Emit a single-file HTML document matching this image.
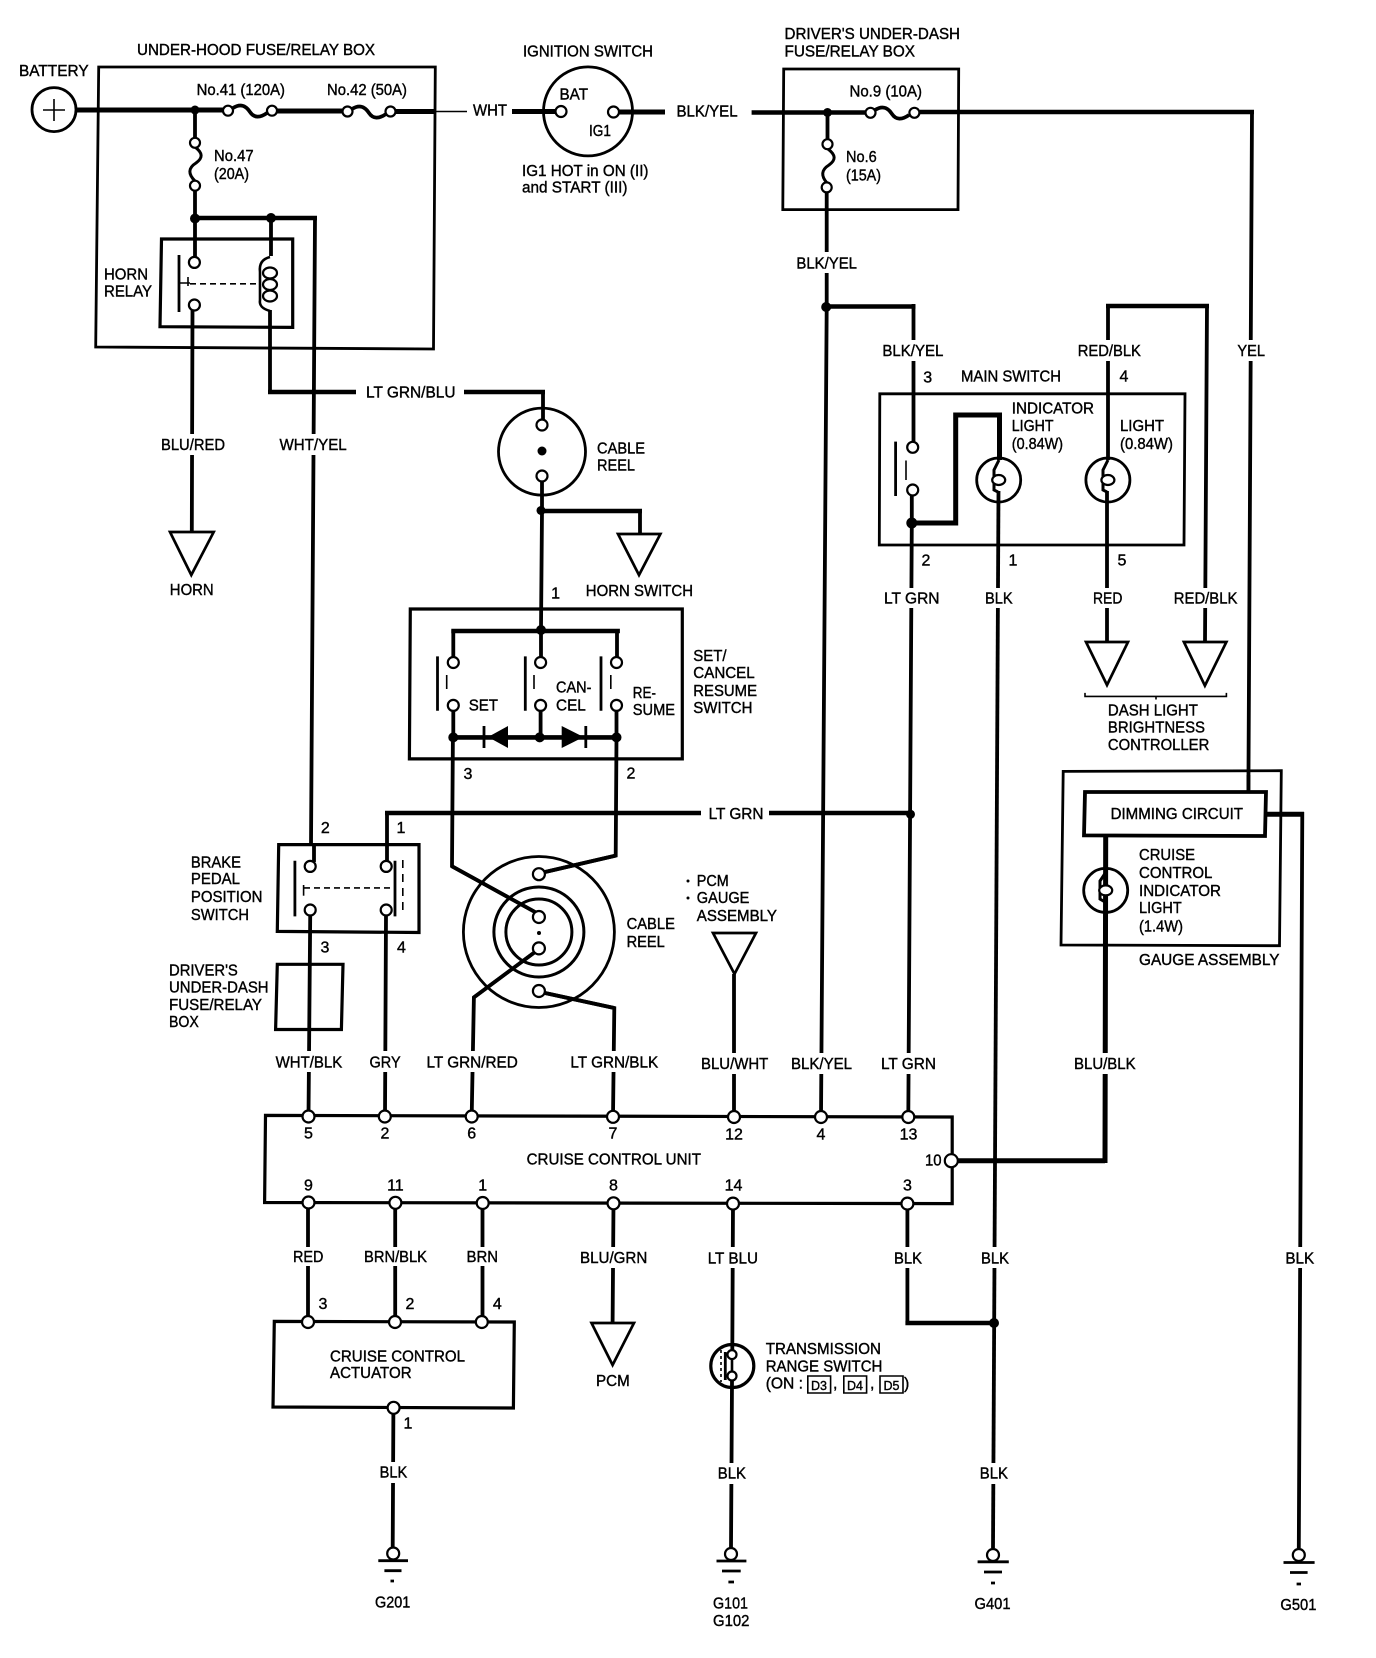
<!DOCTYPE html>
<html><head><meta charset="utf-8"><title>Cruise control wiring diagram</title>
<style>
html,body{margin:0;padding:0;background:#fff}
svg{display:block}
text{font-family:"Liberation Sans",sans-serif;font-size:16px;fill:#000;stroke:#000;stroke-width:.4}
.n{text-anchor:middle}
.w{fill:none;stroke:#000;stroke-width:3.8;stroke-linejoin:miter}
.h{fill:none;stroke:#000;stroke-width:4.6}
.k{fill:none;stroke:#000;stroke-width:5}
.b{fill:none;stroke:#000;stroke-width:2.8}
.bb{fill:none;stroke:#000;stroke-width:3.2}
.t{fill:none;stroke:#000;stroke-width:1.6}
.g{fill:none;stroke:#fff;stroke-width:10}
.c{fill:#fff;stroke:#000;stroke-width:2.2}
.tri{fill:#fff;stroke:#000;stroke-width:2.7}
</style></head><body>
<svg width="1376" height="1658" viewBox="0 0 1376 1658" xmlns="http://www.w3.org/2000/svg">
<rect width="1376" height="1658" fill="#fff"/>

<!-- boxes -->
<g>
<path class="b" d="M98.7,67H435.3L433.5,349L95.7,347Z"/>
<path class="bb" d="M161.5,239H292.7V327.4L160,326.7Z"/>
<path class="b" d="M783.7,69H958.7L958,209.6H782.8Z"/>
<path class="b" d="M879.8,393.8H1185L1184,545H879.3Z"/>
<path class="bb" d="M410.3,609H682.3V758.9H409.4Z"/>
<path class="bb" d="M278.7,844.6H419V932.5L277.3,931.4Z"/>
<path class="bb" d="M277.3,964.3H343L341.4,1029.5H275.6Z"/>
<path class="bb" d="M265.5,1115.4L952.2,1117V1203.6L264.6,1202.5Z"/>
<path class="bb" d="M274.3,1321.4L514.3,1322L513.4,1408L273,1407Z"/>
<path class="b" d="M1063.2,771.4L1281.3,770.7L1279.5,945.7L1061,945Z"/>
<path class="w" d="M1085,792H1266L1265,836L1084,835.4Z"/>
</g>

<!-- wires -->
<path class="k" d="M76,110H228M277,111H342M395,111.5H436"/>
<path class="t" d="M436,111.5H467"/>
<path class="k" d="M512,111.5H559M618,112H665"/>
<path class="w" d="M195,110V138M195,190V218M315,218L311,846M195,218V258M192.5,310L191.8,533"/>
<path class="h" d="M193,218H317"/>
<path class="w" d="M271,218V256M270,310V394M543,390V420M542,480V511L541,628M640,509V533"/>
<path class="h" d="M268,392H356M464,392H545M539,511H642"/>
<path class="w" d="M826.7,192V307L821,1117M913.5,304V442M1252,110L1248.4,790M827.5,112.5V139"/>
<path class="h" d="M751.6,112.5H866M824,306.5H915.5M920,112H1254"/>
<path class="w" d="M911.8,495V523L908.3,1117"/>
<path class="k" d="M911.8,523H955.7V415H999.5V460"/>
<path class="w" d="M998.5,491L993,1548"/>
<path class="w" d="M1108,460V304M1207,304L1205,642M1107,491V642"/>
<path class="h" d="M1106,306H1209"/>
<path class="w" d="M453.3,630V658M541,630V658M617,630V658M453.3,710V737.4M540.6,710V737.4M616.5,710V737.4"/>
<path class="h" d="M451.3,631H619.9M453,737.4H617"/>
<path class="w" d="M452.9,737.4L452,866.3L535,912M616.5,737.4L615.7,855.6L545,872"/>
<path class="w" d="M535,952L473.9,997.4L471.7,1116M545,993L614.3,1008L613,1116"/>
<path class="w" d="M387,866V811M310.2,905V917L308.5,1116M386,915L385,1116M314,846V862"/>
<path class="h" d="M385,813H701M769,813H910"/>
<path class="w" d="M308,1203V1322M395.2,1203V1322M482.5,1203V1322M613.5,1203L612.6,1323M733,1203L732.3,1350M732,1381L731,1548M393.4,1408L392.7,1548M907.4,1203V1325"/>
<path class="h" d="M905.4,1323H994"/>
<path class="k" d="M957,1160.7H1105M1105,1163L1105.7,837"/>
<path class="w" d="M734,974V1116"/>
<path class="k" d="M1266,814.3H1304"/>
<path class="w" d="M1302.3,812L1298.8,1548M1248.4,775V792"/>

<!-- label gaps on wires -->
<path class="g" d="M192.5,434V455M313.5,434V455M826,252V273M914,340V361M1108,340V361M1250,340V361M910,588V608M998,588V608M1107,588V608M1205.5,588V608M309,1051V1072M385,1051V1072M473,1051V1072M613.5,1051V1072M734,1053V1074M821,1053V1074M908.5,1053V1074M1104.5,1053V1074M308,1247V1266M395,1247V1266M482,1247V1266M613,1247V1268M733,1247V1268M907.4,1247V1268M994.5,1247V1268M1299.5,1247V1268M392.7,1462V1483M731.5,1463V1484M993.5,1463V1484"/>

<!-- fuses -->
<path class="w" d="M233,108C241,103 246,106 250,112S260,118 267,113"/>
<path class="w" d="M352,109C360,104 365,107 369,113S379,119 386,114"/>
<path class="w" d="M875,110C883,105 888,108 892,114S902,120 909,115"/>
<path class="w" stroke-width="3" style="stroke-width:3" d="M195,147C203,153 203,158 196,163C188,168 188,174 195,181"/>
<path class="w" style="stroke-width:3" d="M828,149C836,155 836,160 829,165C821,170 821,176 827,183"/>

<!-- battery, ignition, reels -->
<circle class="b" cx="54" cy="109.6" r="22"/>
<path class="t" d="M43,110H65M54,99V121"/>
<circle class="b" cx="588" cy="111.4" r="44.5"/>
<circle class="b" cx="542" cy="451.6" r="43.5"/>
<circle cx="542" cy="451" r="4.5"/>
<circle class="b" cx="538.9" cy="932" r="75.5"/>
<circle class="b" style="stroke-width:3" cx="538.9" cy="932" r="45"/>
<circle class="b" style="stroke-width:3" cx="538.9" cy="932" r="33"/>
<circle cx="539" cy="933" r="2"/>
<path class="w" d="M452,866.3L535,912M545,872L615.7,855.6M473.9,997.4L535,952M545,993L614.3,1008"/>

<!-- relay internals -->
<path class="b" d="M179,255V312"/>
<path class="t" d="M188,277V286M179,283H190"/>
<path class="t" stroke-dasharray="6 4" d="M190,283.8H259"/>
<path class="w" style="stroke-width:2.6" d="M270,257C262,259 259,264 260,272V300C259,306 263,309 270,311"/>
<ellipse class="c" cx="270" cy="273" rx="7" ry="5.5"/>
<ellipse class="c" cx="270" cy="284.5" rx="7" ry="5.5"/>
<ellipse class="c" cx="270" cy="296" rx="7" ry="5.5"/>

<!-- main switch -->
<path class="b" d="M895.6,441.6V496"/>
<path class="t" d="M906,460.5V480"/>
<circle class="b" cx="998.7" cy="480" r="22"/>
<circle class="b" cx="1107.9" cy="480" r="22"/>
<path class="w" style="stroke-width:3" d="M999,460L994,470V490L998,492M1108,460L1103,470V490L1107,492"/>
<ellipse class="c" cx="998.7" cy="480" rx="6.5" ry="5"/>
<ellipse class="c" cx="1107.9" cy="480" rx="6.5" ry="5"/>

<!-- set/cancel switch -->
<path class="b" d="M437.5,656.4V710.7M525.3,656.4V710.7M601,656.4V710.7"/>
<path class="t" d="M446.7,675V689M534,675V689M610.8,675V689"/>
<path d="M488,737L508,726V748Z"/>
<path d="M583.6,737L561.7,726V748Z"/>
<path class="b" d="M484,726V748M585.8,726V748"/>

<!-- brake switch -->
<path class="b" d="M294.9,860.7V916.4M395,860.7V916.4"/>
<path class="t" d="M303.6,885V895.7"/>
<path class="t" stroke-dasharray="8 6" d="M402.8,860V915"/>
<path class="t" stroke-dasharray="6 4" d="M304,887.9H392.7"/>

<!-- gauge lamp -->
<circle class="b" cx="1105.7" cy="890.4" r="22"/>
<path class="w" style="stroke-width:3" d="M1106,872L1100,881V899L1105,902"/>
<ellipse class="c" cx="1105.7" cy="890.4" rx="6.5" ry="5"/>

<!-- transmission switch -->
<circle class="b" style="stroke-width:3.2" cx="732.3" cy="1366" r="21.5"/>
<path class="b" d="M725.3,1352V1380"/>
<path class="t" stroke-dasharray="3 3" d="M721,1350V1382"/>
<path class="w" style="stroke-width:2.6" d="M732,1350V1386"/>

<!-- triangles -->
<path class="tri" d="M170,532H213.7L191.3,575Z"/>
<path class="tri" d="M618,534H660.4L639,575Z"/>
<path class="tri" d="M1086,642H1128L1107,685Z"/>
<path class="tri" d="M1183.9,642H1226.4L1204.9,685.7Z"/>
<path class="tri" d="M713,933H756L734.5,974Z"/>
<path class="tri" d="M591.5,1323H634L612.6,1365Z"/>
<path class="t" d="M1085,692.9V696.4H1226.4V692.9M1156,696.4V699.5"/>

<!-- junction dots -->
<g>
<circle cx="195" cy="110" r="4.5"/><circle cx="195" cy="218.5" r="5"/><circle cx="271" cy="218" r="5"/>
<circle cx="827.5" cy="112.5" r="4.5"/><circle cx="826.2" cy="307" r="5"/><circle cx="911.8" cy="523" r="5.5"/>
<circle cx="541" cy="510.5" r="4.5"/><circle cx="541" cy="630" r="5"/><circle cx="453.3" cy="737.4" r="5"/>
<circle cx="539.7" cy="737.4" r="5"/><circle cx="616.5" cy="737.4" r="5"/><circle cx="910.5" cy="814.3" r="4.5"/>
<circle cx="994" cy="1323" r="5"/><circle cx="688" cy="881" r="1.5"/><circle cx="688" cy="898" r="1.5"/>
</g>

<!-- terminals -->
<g>
<circle class="c" cx="228" cy="110.7" r="5"/><circle class="c" cx="272" cy="110.7" r="5"/>
<circle class="c" cx="347.5" cy="111.5" r="5"/><circle class="c" cx="390.5" cy="111.5" r="5"/>
<circle class="c" cx="561" cy="111.5" r="5.5"/><circle class="c" cx="613.5" cy="112" r="5.5"/>
<circle class="c" cx="195" cy="142.8" r="5"/><circle class="c" cx="195" cy="185.7" r="5"/>
<circle class="c" cx="194.4" cy="262.4" r="5.5"/><circle class="c" cx="194.4" cy="305" r="5.5"/>
<circle class="c" cx="870.5" cy="112.8" r="5"/><circle class="c" cx="914.4" cy="112.8" r="5"/>
<circle class="c" cx="827.5" cy="144.2" r="5"/><circle class="c" cx="826.7" cy="187.4" r="5"/>
<circle class="c" cx="542" cy="425" r="5.5"/><circle class="c" cx="542" cy="476" r="5.5"/>
<circle class="c" cx="912.7" cy="447.3" r="5.5"/><circle class="c" cx="912.7" cy="490" r="5.5"/>
<circle class="c" cx="453.3" cy="662.5" r="5.5"/><circle class="c" cx="540.6" cy="662.5" r="5.5"/><circle class="c" cx="616.5" cy="662.5" r="5.5"/>
<circle class="c" cx="453.3" cy="705.4" r="5.5"/><circle class="c" cx="540.6" cy="705.4" r="5.5"/><circle class="c" cx="616.5" cy="705.4" r="5.5"/>
<circle class="c" cx="310.2" cy="866.4" r="5.5"/><circle class="c" cx="310.2" cy="910" r="5.5"/>
<circle class="c" cx="386.2" cy="866.4" r="5.5"/><circle class="c" cx="386.2" cy="910" r="5.5"/>
<circle class="c" cx="538.9" cy="874.2" r="6"/><circle class="c" cx="538.9" cy="917" r="6"/>
<circle class="c" cx="538.9" cy="948.4" r="6"/><circle class="c" cx="538.9" cy="991" r="6"/>
<circle class="c" cx="308.5" cy="1116.5" r="6"/><circle class="c" cx="384.8" cy="1116.5" r="6"/><circle class="c" cx="471.7" cy="1116.5" r="6"/>
<circle class="c" cx="613" cy="1116.8" r="6"/><circle class="c" cx="734" cy="1117" r="6"/><circle class="c" cx="821" cy="1117" r="6"/><circle class="c" cx="908.3" cy="1117" r="6"/>
<circle class="c" cx="951.3" cy="1160.7" r="6.5"/>
<circle class="c" cx="308.5" cy="1202.5" r="6"/><circle class="c" cx="395.4" cy="1202.8" r="6"/><circle class="c" cx="482.7" cy="1203" r="6"/>
<circle class="c" cx="613.5" cy="1203.3" r="6"/><circle class="c" cx="733" cy="1203.6" r="6"/><circle class="c" cx="907.4" cy="1203.6" r="6"/>
<circle class="c" cx="308" cy="1322" r="6"/><circle class="c" cx="395" cy="1322" r="6"/><circle class="c" cx="481.8" cy="1322" r="6"/>
<circle class="c" cx="393.6" cy="1407.8" r="6"/>
<circle class="c" cx="732" cy="1354.6" r="4.5"/><circle class="c" cx="732" cy="1376" r="4.5"/>
</g>

<!-- grounds -->
<circle class="c" cx="393.2" cy="1553.5" r="6"/>
<path class="b" d="M378.3,1560.7H408M384.4,1570.7H401.5M390.5,1581H394"/>
<circle class="c" cx="731" cy="1554" r="6"/>
<path class="b" d="M716.5,1561H746.4M722,1571H740.7M728.4,1582H734"/>
<circle class="c" cx="993" cy="1555" r="6"/>
<path class="b" d="M977.6,1561.8H1008.8M984,1572H1002M991,1583H995"/>
<circle class="c" cx="1298.8" cy="1555" r="6"/>
<path class="b" d="M1283.5,1562.5H1314.6M1290,1572.5H1307.6M1296.6,1584H1301"/>

<!-- D boxes -->
<path class="t" d="M807.8,1376H830.6V1393H807.8ZM843.8,1376H866.6V1393H843.8ZM880,1376H903V1393H880Z"/>

<!-- labels -->
<g transform="translate(0,-1.5)">
<text x="137" y="56.4" textLength="238" lengthAdjust="spacingAndGlyphs">UNDER-HOOD FUSE/RELAY BOX</text>
<text x="19" y="77.5" textLength="69.6" lengthAdjust="spacingAndGlyphs">BATTERY</text>
<text x="523" y="57.8" textLength="130" lengthAdjust="spacingAndGlyphs">IGNITION SWITCH</text>
<text x="196.6" y="96.4" textLength="88.4" lengthAdjust="spacingAndGlyphs">No.41 (120A)</text>
<text x="327" y="96.4" textLength="80" lengthAdjust="spacingAndGlyphs">No.42 (50A)</text>
<text x="473" y="117" textLength="34" lengthAdjust="spacingAndGlyphs">WHT</text>
<text x="559.5" y="101" textLength="28.5" lengthAdjust="spacingAndGlyphs">BAT</text>
<text x="589" y="137.5" textLength="22" lengthAdjust="spacingAndGlyphs" style="font-size:16px">IG1</text>
<text x="522" y="177.5" textLength="126.5" lengthAdjust="spacingAndGlyphs">IG1 HOT in ON (II)</text>
<text x="522" y="194" textLength="105.5" lengthAdjust="spacingAndGlyphs">and START (III)</text>
<text x="214" y="162.5" textLength="39.6" lengthAdjust="spacingAndGlyphs">No.47</text>
<text x="214" y="180.7" textLength="35" lengthAdjust="spacingAndGlyphs">(20A)</text>
<text x="104" y="281" textLength="44" lengthAdjust="spacingAndGlyphs">HORN</text>
<text x="104" y="298" textLength="48" lengthAdjust="spacingAndGlyphs">RELAY</text>
<text x="161" y="451.6" textLength="64" lengthAdjust="spacingAndGlyphs">BLU/RED</text>
<text x="279.5" y="451.6" textLength="67.2" lengthAdjust="spacingAndGlyphs">WHT/YEL</text>
<text x="366" y="399" textLength="89.5" lengthAdjust="spacingAndGlyphs">LT GRN/BLU</text>
<text x="597" y="455" textLength="48" lengthAdjust="spacingAndGlyphs">CABLE</text>
<text x="597" y="472" textLength="38" lengthAdjust="spacingAndGlyphs">REEL</text>
<text x="169.8" y="596.4" textLength="43.9" lengthAdjust="spacingAndGlyphs">HORN</text>
<text x="585.8" y="597.5" textLength="107.2" lengthAdjust="spacingAndGlyphs">HORN SWITCH</text>
<text class="n" x="555.6" y="600">1</text>

<text x="676.5" y="117.8" textLength="61.1" lengthAdjust="spacingAndGlyphs">BLK/YEL</text>
<text x="784.5" y="40.3" textLength="175.5" lengthAdjust="spacingAndGlyphs">DRIVER'S UNDER-DASH</text>
<text x="784.5" y="58.2" textLength="130.5" lengthAdjust="spacingAndGlyphs">FUSE/RELAY BOX</text>
<text x="849.5" y="98" textLength="72.5" lengthAdjust="spacingAndGlyphs">No.9 (10A)</text>
<text x="846" y="163.5" textLength="30.7" lengthAdjust="spacingAndGlyphs">No.6</text>
<text x="846" y="182" textLength="35" lengthAdjust="spacingAndGlyphs">(15A)</text>
<text x="796.4" y="270" textLength="60.6" lengthAdjust="spacingAndGlyphs">BLK/YEL</text>
<text x="882.4" y="357.7" textLength="61" lengthAdjust="spacingAndGlyphs">BLK/YEL</text>
<text x="1077.7" y="357.7" textLength="63.2" lengthAdjust="spacingAndGlyphs">RED/BLK</text>
<text x="1237.4" y="357.7" textLength="27.6" lengthAdjust="spacingAndGlyphs">YEL</text>
<text class="n" x="927.7" y="383.8">3</text>
<text x="961" y="383" textLength="100" lengthAdjust="spacingAndGlyphs">MAIN SWITCH</text>
<text class="n" x="1124" y="383">4</text>
<text x="1011.8" y="415" textLength="82.2" lengthAdjust="spacingAndGlyphs">INDICATOR</text>
<text x="1011.8" y="432.7" textLength="41.7" lengthAdjust="spacingAndGlyphs">LIGHT</text>
<text x="1011.8" y="450.5" textLength="51.2" lengthAdjust="spacingAndGlyphs">(0.84W)</text>
<text x="1120" y="432.7" textLength="44" lengthAdjust="spacingAndGlyphs">LIGHT</text>
<text x="1120" y="450.5" textLength="52.9" lengthAdjust="spacingAndGlyphs">(0.84W)</text>
<text class="n" x="926" y="567">2</text>
<text class="n" x="1013" y="567">1</text>
<text class="n" x="1122" y="567">5</text>
<text x="884" y="605" textLength="55.5" lengthAdjust="spacingAndGlyphs">LT GRN</text>
<text x="985" y="605" textLength="27.7" lengthAdjust="spacingAndGlyphs">BLK</text>
<text x="1093" y="605" textLength="29.4" lengthAdjust="spacingAndGlyphs">RED</text>
<text x="1173.8" y="605" textLength="63.6" lengthAdjust="spacingAndGlyphs">RED/BLK</text>

<text x="468.7" y="711.8" textLength="29.3" lengthAdjust="spacingAndGlyphs">SET</text>
<text x="556" y="694" textLength="35.5" lengthAdjust="spacingAndGlyphs">CAN-</text>
<text x="556" y="711.8" textLength="29.8" lengthAdjust="spacingAndGlyphs">CEL</text>
<text x="632.8" y="699.3" textLength="23.2" lengthAdjust="spacingAndGlyphs">RE-</text>
<text x="632.8" y="716.4" textLength="42.2" lengthAdjust="spacingAndGlyphs">SUME</text>
<text x="693.3" y="662.5" textLength="33.3" lengthAdjust="spacingAndGlyphs">SET/</text>
<text x="693.3" y="679.6" textLength="61.4" lengthAdjust="spacingAndGlyphs">CANCEL</text>
<text x="693.3" y="697.5" textLength="63.7" lengthAdjust="spacingAndGlyphs">RESUME</text>
<text x="693.3" y="714.3" textLength="59.2" lengthAdjust="spacingAndGlyphs">SWITCH</text>
<text x="1107.9" y="717" textLength="90" lengthAdjust="spacingAndGlyphs">DASH LIGHT</text>
<text x="1107.9" y="733.9" textLength="97.1" lengthAdjust="spacingAndGlyphs">BRIGHTNESS</text>
<text x="1107.9" y="751.7" textLength="101.4" lengthAdjust="spacingAndGlyphs">CONTROLLER</text>
<text class="n" x="468" y="780.3">3</text>
<text class="n" x="631" y="780">2</text>
<text x="708.6" y="820.7" textLength="54.9" lengthAdjust="spacingAndGlyphs">LT GRN</text>
<text x="1110.6" y="820.7" textLength="132.4" lengthAdjust="spacingAndGlyphs">DIMMING CIRCUIT</text>
<text class="n" x="325.3" y="834.3">2</text>
<text class="n" x="401" y="834.3">1</text>
<text class="n" x="325" y="954">3</text>
<text class="n" x="401.5" y="954">4</text>
<text x="190.9" y="869" textLength="50.1" lengthAdjust="spacingAndGlyphs">BRAKE</text>
<text x="190.9" y="885.7" textLength="49.1" lengthAdjust="spacingAndGlyphs">PEDAL</text>
<text x="190.9" y="903.6" textLength="71.5" lengthAdjust="spacingAndGlyphs">POSITION</text>
<text x="190.9" y="921.4" textLength="58.1" lengthAdjust="spacingAndGlyphs">SWITCH</text>
<text x="169" y="977" textLength="68.8" lengthAdjust="spacingAndGlyphs">DRIVER'S</text>
<text x="169" y="993.8" textLength="99.6" lengthAdjust="spacingAndGlyphs">UNDER-DASH</text>
<text x="169" y="1011.6" textLength="93" lengthAdjust="spacingAndGlyphs">FUSE/RELAY</text>
<text x="169" y="1028.4" textLength="29.8" lengthAdjust="spacingAndGlyphs">BOX</text>
<text x="626.6" y="930.6" textLength="48.3" lengthAdjust="spacingAndGlyphs">CABLE</text>
<text x="626.6" y="948.5" textLength="38.2" lengthAdjust="spacingAndGlyphs">REEL</text>
<text x="696.8" y="887.5" textLength="32" lengthAdjust="spacingAndGlyphs">PCM</text>
<text x="696.8" y="904.6" textLength="52.6" lengthAdjust="spacingAndGlyphs">GAUGE</text>
<text x="696.8" y="922.5" textLength="80.2" lengthAdjust="spacingAndGlyphs">ASSEMBLY</text>
<text x="1139" y="861.7" textLength="56" lengthAdjust="spacingAndGlyphs">CRUISE</text>
<text x="1139" y="879.6" textLength="73.4" lengthAdjust="spacingAndGlyphs">CONTROL</text>
<text x="1139" y="897.5" textLength="82" lengthAdjust="spacingAndGlyphs">INDICATOR</text>
<text x="1139" y="914.6" textLength="42.7" lengthAdjust="spacingAndGlyphs">LIGHT</text>
<text x="1139" y="933.2" textLength="44" lengthAdjust="spacingAndGlyphs">(1.4W)</text>
<text x="1139" y="966.4" textLength="140.5" lengthAdjust="spacingAndGlyphs">GAUGE ASSEMBLY</text>

<text x="275.6" y="1068.8" textLength="66.7" lengthAdjust="spacingAndGlyphs">WHT/BLK</text>
<text x="369.5" y="1068.8" textLength="31.1" lengthAdjust="spacingAndGlyphs">GRY</text>
<text x="426.5" y="1068.8" textLength="91.3" lengthAdjust="spacingAndGlyphs">LT GRN/RED</text>
<text x="570.4" y="1068.8" textLength="87.8" lengthAdjust="spacingAndGlyphs">LT GRN/BLK</text>
<text x="701" y="1070.7" textLength="67.3" lengthAdjust="spacingAndGlyphs">BLU/WHT</text>
<text x="791" y="1070.7" textLength="61" lengthAdjust="spacingAndGlyphs">BLK/YEL</text>
<text x="881" y="1070.7" textLength="55" lengthAdjust="spacingAndGlyphs">LT GRN</text>
<text x="1074" y="1070.7" textLength="61.6" lengthAdjust="spacingAndGlyphs">BLU/BLK</text>

<text class="n" x="308.5" y="1140">5</text>
<text class="n" x="385" y="1140">2</text>
<text class="n" x="471.7" y="1140">6</text>
<text class="n" x="613" y="1140">7</text>
<text class="n" x="734" y="1141">12</text>
<text class="n" x="821" y="1141">4</text>
<text class="n" x="908.5" y="1141">13</text>
<text x="526.6" y="1166" textLength="174.4" lengthAdjust="spacingAndGlyphs">CRUISE CONTROL UNIT</text>
<text x="925" y="1166.8" textLength="16.6" lengthAdjust="spacingAndGlyphs">10</text>
<text class="n" x="308.5" y="1192">9</text>
<text class="n" x="395.4" y="1192">11</text>
<text class="n" x="482.7" y="1192">1</text>
<text class="n" x="613.5" y="1192">8</text>
<text class="n" x="733.5" y="1192">14</text>
<text class="n" x="907.4" y="1192">3</text>

<text x="293" y="1263.6" textLength="30.4" lengthAdjust="spacingAndGlyphs">RED</text>
<text x="364" y="1263.6" textLength="63" lengthAdjust="spacingAndGlyphs">BRN/BLK</text>
<text x="466.5" y="1263.6" textLength="31.5" lengthAdjust="spacingAndGlyphs">BRN</text>
<text x="580" y="1264.3" textLength="67.3" lengthAdjust="spacingAndGlyphs">BLU/GRN</text>
<text x="707.7" y="1265" textLength="50.3" lengthAdjust="spacingAndGlyphs">LT BLU</text>
<text x="894" y="1265" textLength="28" lengthAdjust="spacingAndGlyphs">BLK</text>
<text x="981" y="1265" textLength="28" lengthAdjust="spacingAndGlyphs">BLK</text>
<text x="1285.4" y="1265" textLength="28.8" lengthAdjust="spacingAndGlyphs">BLK</text>

<text class="n" x="323" y="1310.7">3</text>
<text class="n" x="410" y="1310.7">2</text>
<text class="n" x="497.3" y="1310.7">4</text>
<text x="330" y="1363" textLength="135" lengthAdjust="spacingAndGlyphs">CRUISE CONTROL</text>
<text x="330" y="1379.6" textLength="81.6" lengthAdjust="spacingAndGlyphs">ACTUATOR</text>
<text x="596" y="1387.5" textLength="33.7" lengthAdjust="spacingAndGlyphs">PCM</text>
<text x="765.7" y="1355.4" textLength="115.3" lengthAdjust="spacingAndGlyphs">TRANSMISSION</text>
<text x="765.7" y="1373" textLength="116.7" lengthAdjust="spacingAndGlyphs">RANGE SWITCH</text>
<text x="765.7" y="1390" textLength="37.3" lengthAdjust="spacingAndGlyphs">(ON :</text>
<text x="811" y="1391.5" style="font-size:13px" textLength="16" lengthAdjust="spacingAndGlyphs">D3</text>
<text x="833" y="1390">,</text>
<text x="847" y="1391.5" style="font-size:13px" textLength="16" lengthAdjust="spacingAndGlyphs">D4</text>
<text x="870" y="1390">,</text>
<text x="883.5" y="1391.5" style="font-size:13px" textLength="16" lengthAdjust="spacingAndGlyphs">D5</text>
<text x="904" y="1390">)</text>
<text class="n" x="408" y="1430">1</text>
<text x="379.6" y="1479" textLength="27.6" lengthAdjust="spacingAndGlyphs">BLK</text>
<text x="717.8" y="1480" textLength="28.2" lengthAdjust="spacingAndGlyphs">BLK</text>
<text x="979.8" y="1480" textLength="28.2" lengthAdjust="spacingAndGlyphs">BLK</text>
<text x="375" y="1609" textLength="35.3" lengthAdjust="spacingAndGlyphs">G201</text>
<text x="713" y="1610" textLength="35" lengthAdjust="spacingAndGlyphs">G101</text>
<text x="713" y="1627.5" textLength="36.4" lengthAdjust="spacingAndGlyphs">G102</text>
<text x="974.5" y="1610.7" textLength="36" lengthAdjust="spacingAndGlyphs">G401</text>
<text x="1280.4" y="1611.4" textLength="36" lengthAdjust="spacingAndGlyphs">G501</text>
</g>
</svg>
</body></html>
